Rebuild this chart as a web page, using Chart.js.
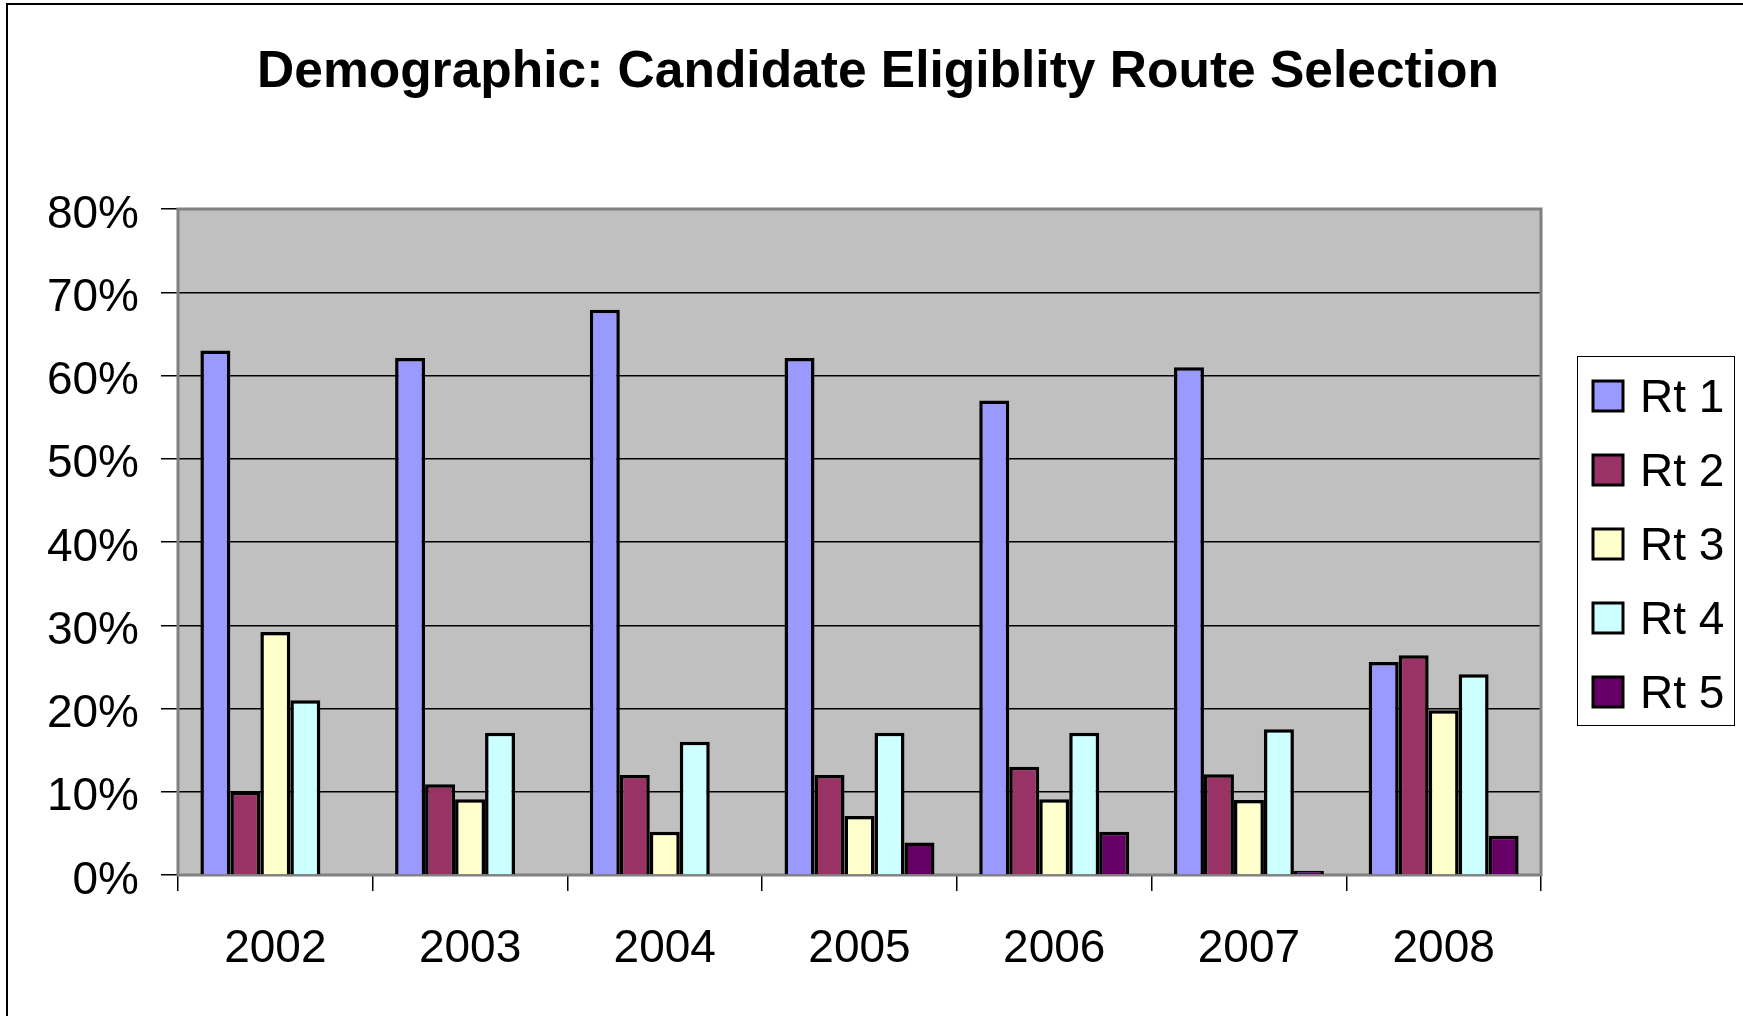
<!DOCTYPE html>
<html>
<head>
<meta charset="utf-8">
<script src="https://cdn.jsdelivr.net/npm/chart.js@4/dist/chart.umd.min.js"></script>
<style>
 html, body { margin: 0; padding: 0; background: #fff; }
 canvas { display: block; }
</style>
</head>
<body>
<canvas id="chart" width="1743" height="1016"></canvas>
<script>
// values in percent
const years = ['2002', '2003', '2004', '2005', '2006', '2007', '2008'];
const rt1 = [63, 62.1, 67.9, 62.1, 57, 61, 25.6];
const rt2 = [10, 10.9, 12, 12, 13, 12.1, 26.4];
const rt3 = [29.2, 9.1, 5.2, 7.1, 9.1, 9, 19.8];
const rt4 = [21, 17.1, 16, 17.1, 17.1, 17.5, 24.1];
const rt5 = [0, 0, 0, 3.9, 5.2, 0.5, 4.7];
const seriesNames = ['Rt 1', 'Rt 2', 'Rt 3', 'Rt 4', 'Rt 5'];
const seriesColors = ['#9999FF', '#993366', '#FFFFCC', '#CCFFFF', '#660066'];
const yTicks = [0, 10, 20, 30, 40, 50, 60, 70, 80];

const FONT = '"Liberation Sans", Arial, sans-serif';

const chartFrame = {
 id: 'chartFrame',
 beforeDraw(chart) {
   const ctx = chart.ctx;
   const a = chart.chartArea;
   ctx.save();
   ctx.fillStyle = '#fff';
   ctx.fillRect(0, 0, chart.width, chart.height);
   // outer border (right/bottom run off the picture)
   ctx.strokeStyle = '#000';
   ctx.lineWidth = 2;
   ctx.strokeRect(7, 4, chart.width + 20, chart.height + 20);
   ctx.fillStyle = '#C0C0C0';
   ctx.fillRect(a.left, a.top, a.right - a.left, a.bottom - a.top);
   ctx.restore();
 },
 beforeDatasetsDraw(chart) {
   const ctx = chart.ctx;
   const a = chart.chartArea;
   ctx.save();
   ctx.strokeStyle = '#808080';
   ctx.lineWidth = 3;
   ctx.strokeRect(a.left, a.top, a.right - a.left, a.bottom - a.top);
   ctx.restore();
 },
 afterDraw(chart) {
   const ctx = chart.ctx;
   ctx.save();
   // title
   ctx.fillStyle = '#000';
   ctx.font = 'bold 51.5px ' + FONT;
   ctx.textAlign = 'center';
   ctx.textBaseline = 'middle';
   ctx.fillText('Demographic: Candidate Eligiblity Route Selection', 878, 73);
   // legend
   ctx.fillStyle = '#fff';
   ctx.fillRect(1577, 356, 158, 370);
   ctx.strokeStyle = '#000';
   ctx.lineWidth = 1;
   ctx.strokeRect(1577.5, 356.5, 157, 369);
   ctx.font = '46px ' + FONT;
   ctx.textAlign = 'left';
   chart.data.datasets.forEach((ds, i) => {
     const cy = 396 + i * 74;
     ctx.fillStyle = ds.backgroundColor;
     ctx.fillRect(1593, cy - 15, 30, 30);
     ctx.lineWidth = 3;
     ctx.strokeStyle = '#000';
     ctx.strokeRect(1593, cy - 15, 30, 30);
     ctx.fillStyle = '#000';
     ctx.fillText(ds.label, 1640, cy + 3);
   });
   ctx.restore();
 }
};

const seriesData = [rt1, rt2, rt3, rt4, rt5];

new Chart(document.getElementById('chart'), {
 type: 'bar',
 data: {
   labels: years,
   datasets: seriesNames.map((name, i) => ({
     label: name,
     data: seriesData[i],
     backgroundColor: seriesColors[i],
     borderColor: '#000',
     borderWidth: 3.5,
     borderSkipped: 'bottom',
     categoryPercentage: 0.77,
     barPercentage: 1.0,
   })),
 },
 options: {
   responsive: false,
   animation: false,
   devicePixelRatio: 1,
   layout: { padding: { top: 209, right: 202, left: 0, bottom: 0 } },
   plugins: {
     legend: { display: false },
     title: { display: false },
     tooltip: { enabled: false },
   },
   scales: {
     x: {
       grid: { offset: true, drawOnChartArea: false, drawTicks: true, tickLength: 16, color: '#000', lineWidth: 1.5 },
       border: { display: false },
       ticks: { color: '#000', font: { family: FONT, size: 46 }, padding: 31, maxRotation: 0 },
       afterFit(scale) { scale.height = 141; },
     },
     y: {
       min: 0,
       max: 80,
       afterBuildTicks(scale) { scale.ticks = yTicks.map(v => ({ value: v })); },
       grid: { color: '#000', lineWidth: 1.5, tickLength: 17, drawTicks: true },
       border: { display: false },
       ticks: { color: '#000', font: { family: FONT, size: 46 }, padding: 22, labelOffset: 6, callback: v => v + '%' },
       afterFit(scale) { scale.width = 178; },
     },
   },
 },
 plugins: [chartFrame],
});
</script>
</body>
</html>
